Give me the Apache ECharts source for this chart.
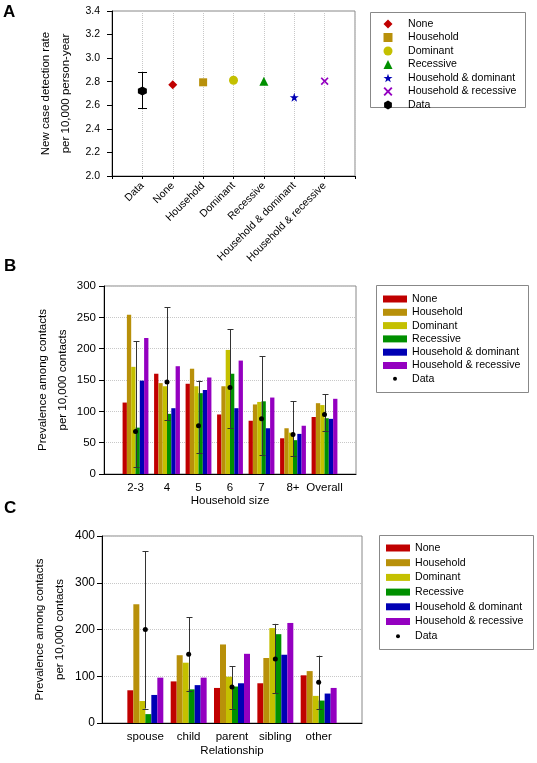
<!DOCTYPE html>
<html>
<head>
<meta charset="utf-8">
<script src="https://cdn.jsdelivr.net/npm/echarts@6/dist/echarts.min.js"></script>
<style>
html,body{margin:0;padding:0;background:#fff;}
#c{width:537px;height:763px;}
</style>
</head>
<body>
<div id="c"></div>
<script>
// ---------- Data ----------
// Panel A
const modelNames = ['None', 'Household', 'Dominant', 'Recessive', 'Household & dominant', 'Household & recessive'];
const rateModel = [2.775, 2.795, 2.812, 2.805, 2.668, 2.805];
const rateData = 2.722;
const rateDataLow = 2.573;
const rateDataHigh = 2.880;

// Panel B
const sizeCats = ['2-3', '4', '5', '6', '7', '8+', 'Overall'];
const sizeNone = [114, 160, 144, 95, 85, 57, 91];
const sizeHousehold = [254, 145, 168, 140, 111, 73, 113];
const sizeDominant = [171, 140, 140, 198, 115, 66, 110];
const sizeRecessive = [74, 96, 129, 160, 116, 54, 89];
const sizeHD = [149, 105, 134, 105, 73, 64, 88];
const sizeHR = [217, 172, 154, 181, 122, 77, 120];
const sizeData = [68, 147, 77, 138, 88, 63, 95];
const sizeLow = [11, 86, 33, 74, 31, 29, 69];
const sizeHigh = [212, 266, 149, 231, 188, 116, 127];

// Panel C
const relCats = ['spouse', 'child', 'parent', 'sibling', 'other'];
const relNone = [70, 89, 75, 85, 102];
const relHousehold = [254, 145, 168, 139, 111];
const relDominant = [47, 129, 99, 203, 58];
const relRecessive = [19, 72, 78, 190, 48];
const relHD = [60, 81, 85, 146, 63];
const relHR = [97, 97, 148, 214, 75];
const relData = [200, 147, 77, 137, 87];
const relLow = [31, 68, 31, 64, 30];
const relHigh = [367, 226, 121, 212, 144];

// ---------- Styles ----------
const colors = ['#C00000', '#B8900A', '#C4C000', '#009000', '#0000B4', '#9400C0'];
const STAR = 'path://M0,-10 L2.35,-3.24 L9.51,-3.09 L3.8,1.24 L5.88,8.09 L0,4 L-5.88,8.09 L-3.8,1.24 L-9.51,-3.09 L-2.35,-3.24 Z';
const CROSS = 'path://M-10,-7 L-7,-10 L0,-3 L7,-10 L10,-7 L3,0 L10,7 L7,10 L0,3 L-7,10 L-10,7 L-3,0 Z';
const HEX = 'path://M0,-10 L8.66,-5 L8.66,5 L0,10 L-8.66,5 L-8.66,-5 Z';
const symbols = ['diamond', 'rect', 'circle', 'triangle', STAR, CROSS];
const symSizes = [9, 8, 9, 9, 9, 8];
const FONT = 'Liberation Sans, Arial, sans-serif';

const catsA = [''].concat(['Data'], modelNames, ['']);
const catsB = [''].concat(sizeCats, ['']);
const catsC = [''].concat(relCats, ['']);

function pairs(cats, vals) { return cats.map((c, i) => [c, vals[i]]); }
function triples(cats, lo, hi) { return cats.map((c, i) => [c, lo[i], hi[i]]); }

function errRender(capHalf, color) {
  return function (params, api) {
    const idx = api.value(0);
    const p1 = api.coord([idx, api.value(1)]);
    const p2 = api.coord([idx, api.value(2)]);
    const x = Math.round(p1[0]) + 0.5;
    const st = { stroke: color, lineWidth: 1 };
    return {
      type: 'group',
      children: [
        { type: 'line', shape: { x1: x, y1: p1[1], x2: x, y2: p2[1] }, style: st },
        { type: 'line', shape: { x1: x - capHalf, y1: Math.round(p1[1]) + 0.5, x2: x + capHalf, y2: Math.round(p1[1]) + 0.5 }, style: st },
        { type: 'line', shape: { x1: x - capHalf, y1: Math.round(p2[1]) + 0.5, x2: x + capHalf, y2: Math.round(p2[1]) + 0.5 }, style: st }
      ]
    };
  };
}

const series = [];
// Panel A scatter (first, so legends pick these symbols)
series.push({
  name: 'Data', type: 'scatter', xAxisIndex: 0, yAxisIndex: 0,
  symbol: HEX, symbolSize: 9, itemStyle: { color: '#000', opacity: 1 }, z: 5,
  data: [['Data', rateData]]
});
modelNames.forEach((n, i) => {
  series.push({
    name: n, type: 'scatter', xAxisIndex: 0, yAxisIndex: 0,
    symbol: symbols[i], symbolSize: symSizes[i], itemStyle: { color: colors[i], opacity: 1 },
    data: [[n, rateModel[i]]]
  });
});
series.push({
  name: 'DataCI_A', type: 'custom', xAxisIndex: 0, yAxisIndex: 0,
  renderItem: errRender(4.5, '#000'), encode: { x: 0, y: [1, 2] }, z: 4,
  data: [['Data', rateDataLow, rateDataHigh]]
});

// Panel B bars
const sizeSeries = [sizeNone, sizeHousehold, sizeDominant, sizeRecessive, sizeHD, sizeHR];
sizeSeries.forEach((vals, i) => {
  series.push({
    name: modelNames[i], type: 'bar', xAxisIndex: 1, yAxisIndex: 1,
    barGap: '0%', barCategoryGap: '18%', itemStyle: { color: colors[i] },
    data: pairs(sizeCats, vals)
  });
});
series.push({
  name: 'DataCI_B', type: 'custom', xAxisIndex: 1, yAxisIndex: 1,
  renderItem: errRender(3, '#333'), encode: { x: 0, y: [1, 2] }, z: 4,
  data: triples(sizeCats, sizeLow, sizeHigh)
});
series.push({
  name: 'Data', type: 'scatter', xAxisIndex: 1, yAxisIndex: 1,
  symbol: 'circle', symbolSize: 5, itemStyle: { color: '#000', opacity: 1 }, z: 5,
  data: pairs(sizeCats, sizeData)
});

// Panel C bars
const relSeries = [relNone, relHousehold, relDominant, relRecessive, relHD, relHR];
relSeries.forEach((vals, i) => {
  series.push({
    name: modelNames[i], type: 'bar', xAxisIndex: 2, yAxisIndex: 2,
    barGap: '0%', barCategoryGap: '17%', itemStyle: { color: colors[i] },
    data: pairs(relCats, vals)
  });
});
series.push({
  name: 'DataCI_C', type: 'custom', xAxisIndex: 2, yAxisIndex: 2,
  renderItem: errRender(3, '#333'), encode: { x: 0, y: [1, 2] }, z: 4,
  data: triples(relCats, relLow, relHigh)
});
series.push({
  name: 'Data', type: 'scatter', xAxisIndex: 2, yAxisIndex: 2,
  symbol: 'circle', symbolSize: 5, itemStyle: { color: '#000', opacity: 1 }, z: 5,
  data: pairs(relCats, relData)
});

const txt = { color: '#000', fontFamily: FONT };
function yAxisCfg(gi, min, max, interval, name, gap, fs, margin, fmt) {
  return {
    type: 'value', gridIndex: gi, min: min, max: max, interval: interval,
    name: name, nameLocation: 'middle', nameRotate: 90, nameGap: gap,
    nameTextStyle: Object.assign({ fontSize: 11.5, lineHeight: 20 }, txt),
    axisLine: { show: true, lineStyle: { color: '#000', width: 1 } },
    axisTick: { show: true, length: 5, lineStyle: { color: '#000' } },
    axisLabel: Object.assign({ fontSize: fs, margin: margin, formatter: fmt }, txt),
    splitLine: gi === 0 ? { show: false } : { show: true, lineStyle: { color: '#c8c8c8', type: 'dotted', width: 1 } }
  };
}

const legendText = Object.assign({ fontSize: 10.6, lineHeight: 12 }, txt);
const legendTextShift = Object.assign({ padding: [0, 0, 0, 10] }, legendText);

const option = {
  animation: false,
  backgroundColor: '#fff',
  grid: [
    { left: 112, top: 11, width: 243, height: 165, show: true, borderColor: '#888', borderWidth: 1 },
    { left: 104, top: 286, width: 252, height: 188, show: true, borderColor: '#888', borderWidth: 1 },
    { left: 102, top: 536, width: 260, height: 187, show: true, borderColor: '#888', borderWidth: 1 }
  ],
  xAxis: [
    {
      type: 'category', gridIndex: 0, data: catsA, boundaryGap: false,
      axisLine: { lineStyle: { color: '#000' } },
      axisTick: { show: true, length: 3, lineStyle: { color: '#000' } },
      axisLabel: Object.assign({ rotate: 45, fontSize: 10.5, margin: 8, interval: 0 }, txt),
      splitLine: { show: true, lineStyle: { color: '#c8c8c8', type: 'dotted' } }
    },
    {
      type: 'category', gridIndex: 1, data: catsB, boundaryGap: false,
      name: 'Household size', nameLocation: 'middle', nameGap: 21,
      nameTextStyle: Object.assign({ fontSize: 11.5 }, txt),
      axisLine: { lineStyle: { color: '#000' } },
      axisTick: { show: false },
      axisLabel: Object.assign({ fontSize: 11.5, margin: 8, interval: 0 }, txt),
      splitLine: { show: false }
    },
    {
      type: 'category', gridIndex: 2, data: catsC, boundaryGap: false,
      name: 'Relationship', nameLocation: 'middle', nameGap: 22,
      nameTextStyle: Object.assign({ fontSize: 11.5 }, txt),
      axisLine: { lineStyle: { color: '#000' } },
      axisTick: { show: false },
      axisLabel: Object.assign({ fontSize: 11.5, margin: 8, interval: 0 }, txt),
      splitLine: { show: false }
    }
  ],
  yAxis: [
    yAxisCfg(0, 2.0, 3.4, 0.2, 'New case detection rate\nper 10,000 person-year', 36, 10.5, 12, v => v.toFixed(1)),
    yAxisCfg(1, 0, 300, 50, 'Prevalence among contacts\nper 10,000 contacts', 31, 11.5, 8, v => String(v)),
    yAxisCfg(2, 0, 400, 100, 'Prevalence among contacts\nper 10,000 contacts', 32, 12, 7, v => String(v))
  ],
  legend: [
    {
      orient: 'vertical', left: 383.5, top: 18, padding: 0, itemGap: 1.5,
      itemWidth: 9, itemHeight: 9, selectedMode: false,
      textStyle: Object.assign({ padding: [0, 0, 0, 10.5] }, legendText),
      data: modelNames.concat(['Data'])
    },
    {
      orient: 'vertical', left: 383, top: 293, padding: 0, itemGap: 1.3,
      itemWidth: 24, itemHeight: 7, icon: 'rect', selectedMode: false, textStyle: legendText,
      data: modelNames.slice()
    },
    {
      orient: 'vertical', left: 393, top: 372.8, padding: 0,
      itemWidth: 4, itemHeight: 4, icon: 'circle', selectedMode: false, textStyle: legendTextShift,
      data: ['Data']
    },
    {
      orient: 'vertical', left: 386, top: 542, padding: 0, itemGap: 2.7,
      itemWidth: 24, itemHeight: 7, icon: 'rect', selectedMode: false, textStyle: legendText,
      data: modelNames.slice()
    },
    {
      orient: 'vertical', left: 396, top: 630.2, padding: 0,
      itemWidth: 4, itemHeight: 4, icon: 'circle', selectedMode: false, textStyle: legendTextShift,
      data: ['Data']
    }
  ],
  graphic: [
    { type: 'rect', shape: { x: 370.5, y: 12.5, width: 155, height: 95 }, style: { fill: 'none', stroke: '#888', lineWidth: 1 }, z: -1 },
    { type: 'rect', shape: { x: 376.5, y: 285.5, width: 152, height: 107 }, style: { fill: 'none', stroke: '#888', lineWidth: 1 }, z: -1 },
    { type: 'rect', shape: { x: 379.5, y: 535.5, width: 154, height: 114 }, style: { fill: 'none', stroke: '#888', lineWidth: 1 }, z: -1 },
    { type: 'text', x: 3, y: 4, style: { text: 'A', font: 'bold 17px Liberation Sans, Arial, sans-serif', fill: '#000', textVerticalAlign: 'top' } },
    { type: 'text', x: 4, y: 258, style: { text: 'B', font: 'bold 17px Liberation Sans, Arial, sans-serif', fill: '#000', textVerticalAlign: 'top' } },
    { type: 'text', x: 4, y: 500, style: { text: 'C', font: 'bold 17px Liberation Sans, Arial, sans-serif', fill: '#000', textVerticalAlign: 'top' } }
  ],
  series: series
};

const chart = echarts.init(document.getElementById('c'), null, { renderer: 'canvas' });
chart.setOption(option);
</script>
</body>
</html>
